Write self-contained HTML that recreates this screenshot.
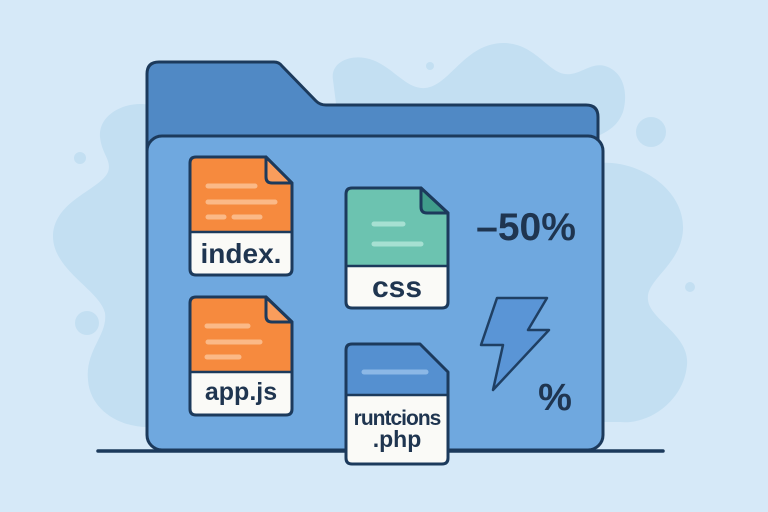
<!DOCTYPE html>
<html><head><meta charset="utf-8"><style>
html,body{margin:0;padding:0;background:#d6e9f8;}
svg{display:block;}
text{font-family:"Liberation Sans",sans-serif;font-weight:bold;fill:#1f3550;}
</style></head><body>
<svg width="768" height="512" viewBox="0 0 768 512" xmlns="http://www.w3.org/2000/svg">
<rect width="768" height="512" fill="#d6e9f8"/>
<!-- background blobs -->
<g fill="#c3dff2">
<path d="M333,80 C330,62 350,55 365,58 C390,62 405,90 425,88 C450,86 465,42 505,43 C535,44 548,72 565,74 C580,76 590,62 605,66 C625,72 628,95 623,112 C618,125 610,130 600,135 L340,135 Z"/>
<path d="M600,163 C640,160 685,190 683,230 C681,265 645,280 648,300 C650,320 690,335 687,365 C684,400 650,425 620,422 L590,422 Z"/>
<path d="M150,105 C125,100 98,115 100,137 C102,155 112,160 108,172 C100,190 55,200 53,235 C52,270 100,290 105,313 C108,335 85,350 88,380 C90,410 120,428 150,427 Z"/>
<circle cx="80" cy="158" r="6"/>
<circle cx="87" cy="323" r="12"/>
<circle cx="430" cy="66" r="4"/>
<circle cx="651" cy="132" r="15"/>
<circle cx="690" cy="287" r="5"/>
</g>
<!-- back folder -->
<path d="M147,160 L147,74 Q147,62 159,62 L274,62 Q279,62 282,66 L316,101 Q320,105 326,105 L586,105 Q598,105 598,117 L598,160 Z" fill="#5089c5" stroke="#1c3a5c" stroke-width="3" stroke-linejoin="round"/>
<!-- front folder -->
<rect x="147" y="136" width="456" height="314" rx="15" fill="#6fa8df" stroke="#1c3a5c" stroke-width="3"/>
<!-- ground line -->
<line x1="98" y1="451" x2="663" y2="451" stroke="#1c3a5c" stroke-width="3.5" stroke-linecap="round"/>

<!-- index file -->
<g stroke-linejoin="round">
<path d="M196,157 L266,157 L292,183 L292,269 Q292,275 286,275 L196,275 Q190,275 190,269 L190,163 Q190,157 196,157 Z" fill="#fafaf7"/>
<path d="M196,157 L266,157 L292,183 L292,232 L190,232 L190,163 Q190,157 196,157 Z" fill="#f68a3e"/>
<line x1="190" y1="232" x2="292" y2="232" stroke="#1c3a5c" stroke-width="2.5"/>
<g stroke="#fbb987" stroke-width="5" stroke-linecap="round">
<line x1="208" y1="186" x2="255" y2="186"/>
<line x1="208" y1="202" x2="275" y2="202"/>
<line x1="208" y1="217" x2="224" y2="217"/>
<line x1="234" y1="217" x2="260" y2="217"/>
</g>
<path d="M266,157 L266,177 Q266,183 272,183 L292,183 Z" fill="#f99d5c" stroke="#1c3a5c" stroke-width="3"/>
<path d="M196,157 L266,157 L292,183 L292,269 Q292,275 286,275 L196,275 Q190,275 190,269 L190,163 Q190,157 196,157 Z" fill="none" stroke="#1c3a5c" stroke-width="3"/>
<text x="241" y="263" font-size="28" text-anchor="middle">index.</text>
</g>

<!-- css file -->
<g stroke-linejoin="round">
<path d="M352,188 L421,188 L448,213 L448,302 Q448,308 442,308 L352,308 Q346,308 346,302 L346,194 Q346,188 352,188 Z" fill="#fafaf7"/>
<path d="M352,188 L421,188 L448,213 L448,266 L346,266 L346,194 Q346,188 352,188 Z" fill="#6cc3b0"/>
<line x1="346" y1="266" x2="448" y2="266" stroke="#1c3a5c" stroke-width="2.5"/>
<g stroke="#a6e0d2" stroke-width="5" stroke-linecap="round">
<line x1="374" y1="224" x2="403" y2="224"/>
<line x1="374" y1="244" x2="421" y2="244"/>
</g>
<path d="M421,188 L421,207 Q421,213 427,213 L448,213 Z" fill="#3f9c8a" stroke="#1c3a5c" stroke-width="3"/>
<path d="M352,188 L421,188 L448,213 L448,302 Q448,308 442,308 L352,308 Q346,308 346,302 L346,194 Q346,188 352,188 Z" fill="none" stroke="#1c3a5c" stroke-width="3"/>
<text x="397" y="297" font-size="30" text-anchor="middle">css</text>
</g>

<!-- app.js file -->
<g stroke-linejoin="round">
<path d="M196,297 L266,297 L292,322 L292,409 Q292,415 286,415 L196,415 Q190,415 190,409 L190,303 Q190,297 196,297 Z" fill="#fafaf7"/>
<path d="M196,297 L266,297 L292,322 L292,372 L190,372 L190,303 Q190,297 196,297 Z" fill="#f68a3e"/>
<line x1="190" y1="372" x2="292" y2="372" stroke="#1c3a5c" stroke-width="2.5"/>
<g stroke="#fbb987" stroke-width="5" stroke-linecap="round">
<line x1="207" y1="326" x2="248" y2="326"/>
<line x1="208" y1="342" x2="260" y2="342"/>
<line x1="207" y1="357" x2="239" y2="357"/>
</g>
<path d="M266,297 L266,316 Q266,322 272,322 L292,322 Z" fill="#f99d5c" stroke="#1c3a5c" stroke-width="3"/>
<path d="M196,297 L266,297 L292,322 L292,409 Q292,415 286,415 L196,415 Q190,415 190,409 L190,303 Q190,297 196,297 Z" fill="none" stroke="#1c3a5c" stroke-width="3"/>
<text x="241" y="400" font-size="25" text-anchor="middle">app.js</text>
</g>

<!-- php file -->
<g stroke-linejoin="round">
<path d="M352,344 L420,344 L448,372 L448,458 Q448,464 442,464 L352,464 Q346,464 346,458 L346,350 Q346,344 352,344 Z" fill="#fafaf7"/>
<path d="M352,344 L420,344 L448,372 L448,395 L346,395 L346,350 Q346,344 352,344 Z" fill="#5590d0"/>
<line x1="346" y1="395" x2="448" y2="395" stroke="#1c3a5c" stroke-width="2.5"/>
<line x1="364" y1="372" x2="426" y2="372" stroke="#8cb8e6" stroke-width="5" stroke-linecap="round"/>
<path d="M352,344 L420,344 L448,372 L448,458 Q448,464 442,464 L352,464 Q346,464 346,458 L346,350 Q346,344 352,344 Z" fill="none" stroke="#1c3a5c" stroke-width="3"/>
<text x="397" y="425" font-size="21" letter-spacing="-1" text-anchor="middle">runtcions</text>
<text x="397" y="447" font-size="23" text-anchor="middle">.php</text>
</g>

<!-- -50% -->
<text x="526" y="240" font-size="39" text-anchor="middle">–50%</text>
<!-- lightning -->
<path d="M497,298 L547,298 L528,330 L549,330 L493,390 L503,345 L481,345 Z" fill="#5a95d6" stroke="#1f3f63" stroke-width="2.5" stroke-linejoin="round"/>
<!-- % -->
<text x="555" y="410" font-size="38" text-anchor="middle">%</text>
</svg>
</body></html>
